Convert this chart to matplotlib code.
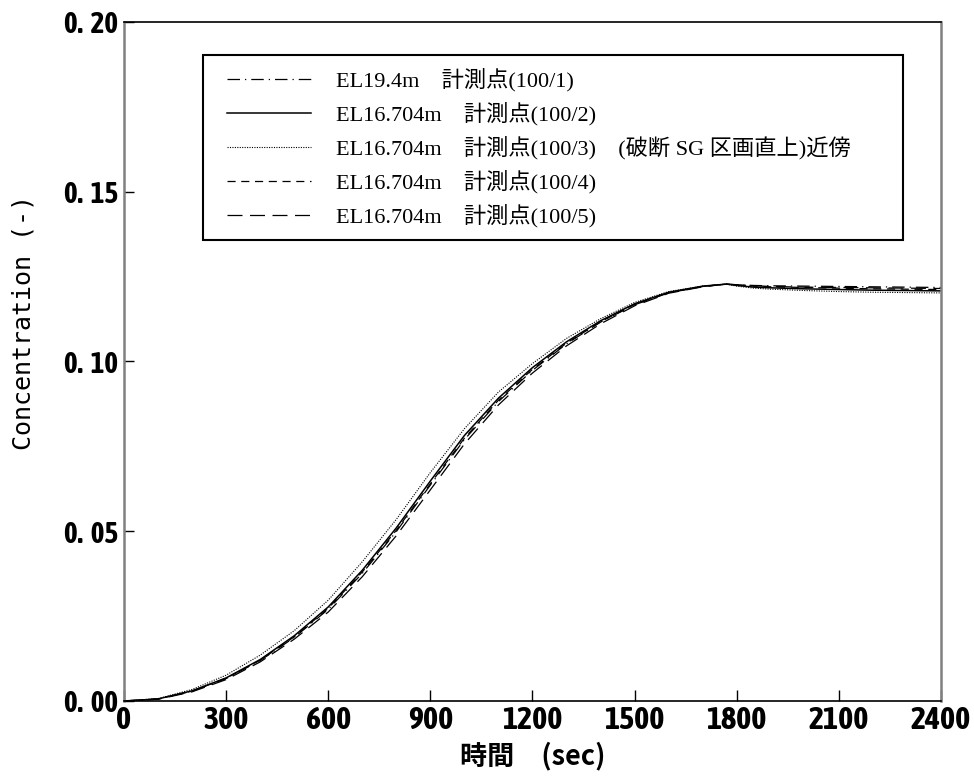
import matplotlib
matplotlib.use("Agg")
import matplotlib.pyplot as plt
from matplotlib import font_manager
from matplotlib.patches import Rectangle
from matplotlib.ticker import FuncFormatter

# time axis (sec) and concentration readings for each measuring point
t = [0, 100, 200, 300, 400, 500, 600, 700, 800, 900, 1000, 1100, 1200, 1300,
     1400, 1500, 1600, 1700, 1770, 1800, 1850, 1900, 2000, 2100, 2200, 2300, 2400]
c1 = [0, 0.0006, 0.0029, 0.0066, 0.0119, 0.0187, 0.0270, 0.0376, 0.0499, 0.0636, 0.0770,
      0.0882, 0.0974, 0.1052, 0.1116, 0.1167, 0.1202, 0.1221, 0.1228, 0.1226, 0.1224,
      0.1223, 0.1222, 0.1221, 0.1220, 0.1219, 0.1218]
c2 = [0, 0.0006, 0.0030, 0.0068, 0.0122, 0.0192, 0.0277, 0.0385, 0.0510, 0.0648, 0.0782,
      0.0892, 0.0982, 0.1058, 0.1120, 0.1170, 0.1204, 0.1222, 0.1228, 0.1224, 0.1219,
      0.1217, 0.1214, 0.1212, 0.1210, 0.1209, 0.1208]
c3 = [0, 0.0007, 0.0034, 0.0076, 0.0135, 0.0207, 0.0297, 0.0410, 0.0535, 0.0673, 0.0802,
      0.0910, 0.0994, 0.1068, 0.1126, 0.1174, 0.1206, 0.1222, 0.1228, 0.1222, 0.1216,
      0.1213, 0.1209, 0.1206, 0.1204, 0.1203, 0.1202]
c4 = [0, 0.0006, 0.0029, 0.0067, 0.0120, 0.0189, 0.0273, 0.0380, 0.0503, 0.0640, 0.0774,
      0.0886, 0.0977, 0.1054, 0.1117, 0.1168, 0.1203, 0.1221, 0.1228, 0.1225, 0.1222,
      0.1220, 0.1218, 0.1216, 0.1214, 0.1213, 0.1212]
c5 = [0, 0.0005, 0.0027, 0.0063, 0.0115, 0.0182, 0.0262, 0.0366, 0.0487, 0.0622, 0.0757,
      0.0872, 0.0966, 0.1046, 0.1111, 0.1164, 0.1201, 0.1220, 0.1228, 0.1226, 0.1223,
      0.1221, 0.1219, 0.1218, 0.1217, 0.1216, 0.1215]

labels = ["EL19.4m\u3000計測点(100/1)",
          "EL16.704m\u3000計測点(100/2)",
          "EL16.704m\u3000計測点(100/3)\u3000(破断 SG 区画直上)近傍",
          "EL16.704m\u3000計測点(100/4)",
          "EL16.704m\u3000計測点(100/5)"]
xticks = [0, 300, 600, 900, 1200, 1500, 1800, 2100, 2400]
yticks = [0.00, 0.05, 0.10, 0.15, 0.20]

narrow = ['Asap Condensed', 'Archivo Narrow', 'DejaVu Sans']
xtick_fp = font_manager.FontProperties(family=narrow, weight='bold', size=23)
ytick_fp = font_manager.FontProperties(family=narrow, weight='bold', size=21)

fig = plt.figure(figsize=(9.74, 7.8), dpi=100)
ax = fig.add_axes([0.1273, 0.1013, 0.8388, 0.8705])

styles = [(0, (10, 4, 1, 4)), '-', (0, (1, 1.2)), (0, (6.5, 4.5)), (0, (12, 6))]
widths = [0.9, 1.1, 0.8, 0.9, 0.9]
for c, lab, ls, lw in zip([c1, c2, c3, c4, c5], labels, styles, widths):
    ax.plot(t, c, color='black', linestyle=ls, linewidth=lw, label=lab)

ax.set_xlim(0, 2400)
ax.set_ylim(0, 0.20)
ax.set_xticks(xticks)
ax.set_yticks(yticks)
ax.yaxis.set_major_formatter(FuncFormatter(lambda v, p: f"{v:.2f}".replace('.', '.  ')))
ax.tick_params(direction='in', length=7, width=1, color='black', pad=4)
ax.tick_params(axis='x', length=8, pad=3)
for lab in ax.get_xticklabels():
    lab.set_fontproperties(xtick_fp)
for lab in ax.get_yticklabels():
    lab.set_fontproperties(ytick_fp)

for side in ['left', 'right']:
    ax.spines[side].set_color('#808080')
    ax.spines[side].set_linewidth(1.8)
for side in ['top', 'bottom']:
    ax.spines[side].set_color('black')
    ax.spines[side].set_linewidth(1.2)

ax.set_xlabel("時間\u3000(sec)", fontproperties=font_manager.FontProperties(
    family=['Noto Sans CJK JP'], weight='bold', size=19.5), labelpad=4)
ax.set_ylabel("Concentration (-)", family='DejaVu Sans Mono', fontsize=18)
ax.yaxis.set_label_coords(-0.108, 0.557)

# legend box drawn separately so the entries can sit where the reference has them
ax.add_patch(Rectangle((0.0967, 0.679), 0.8568, 0.2724, transform=ax.transAxes,
                       facecolor='white', edgecolor='black', linewidth=1.5, zorder=4))
leg = ax.legend(loc='upper left', bbox_to_anchor=(0.126, 0.932),
                prop=font_manager.FontProperties(
                    family=['Liberation Serif', 'Noto Sans CJK JP'], size=16),
                handlelength=3.8, handletextpad=1.1, labelspacing=0.47,
                borderpad=0, borderaxespad=0, frameon=False)
leg.set_zorder(5)

fig.savefig("out.png", dpi=100)
